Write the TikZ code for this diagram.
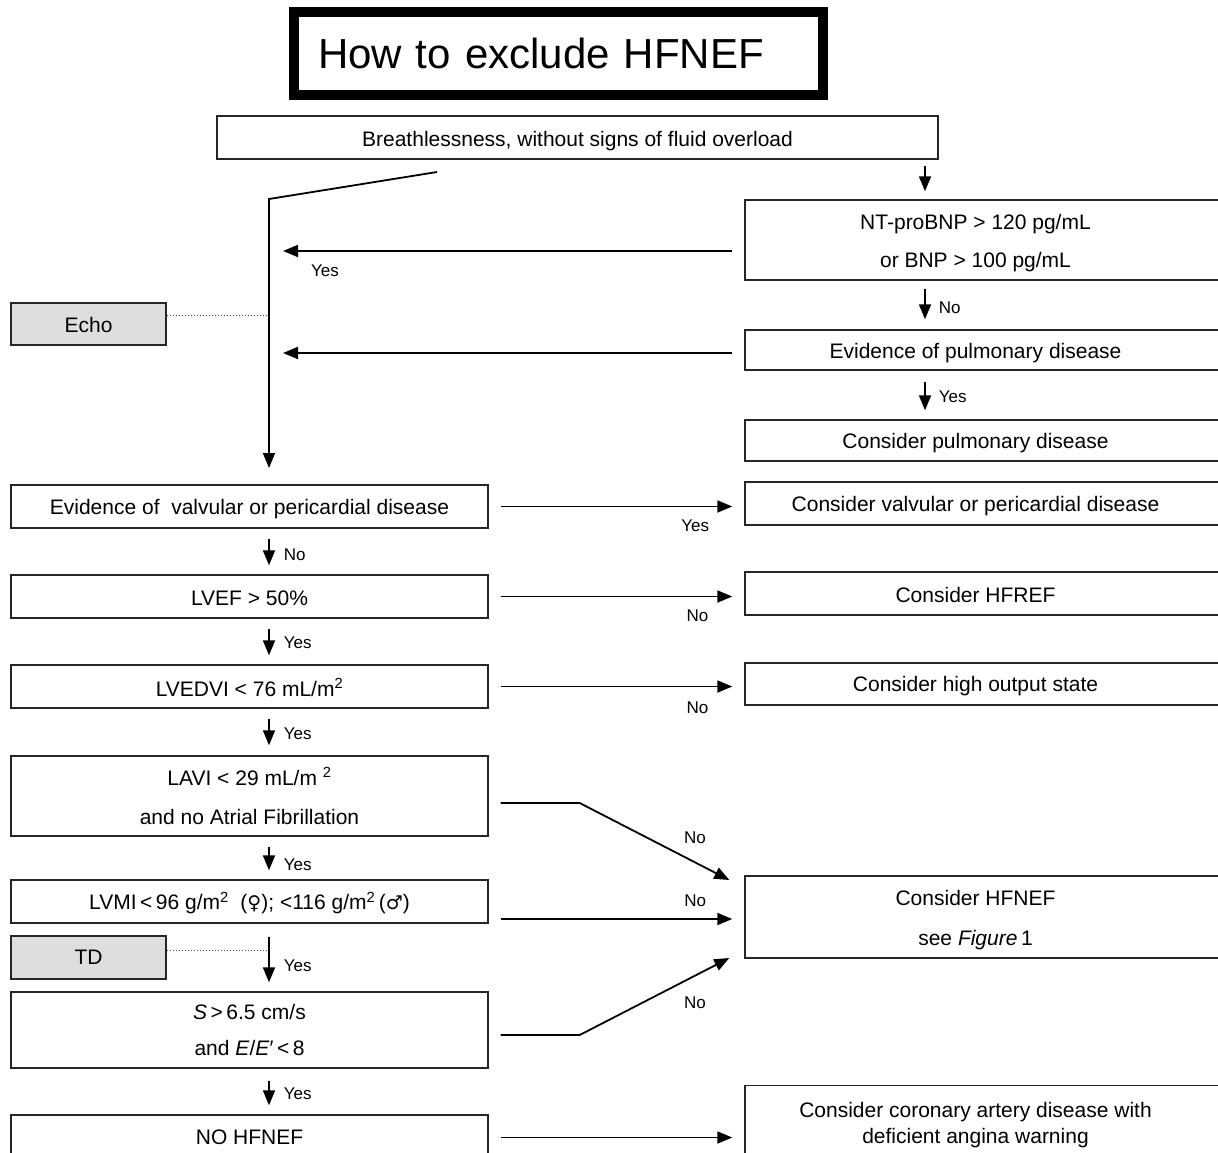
\documentclass[tikz,border=0pt]{standalone}
\usepackage{fontspec}
\setmainfont{Liberation Sans}
\newfontfamily\dvs{DejaVu Sans}
\usetikzlibrary{calc,arrows.meta}
\newcommand\rl{\hspace*{-16pt}}
\newcommand\lw[2][3pt]{\raisebox{-#1}[\height][\depth]{#2}}
\begin{document}
\begin{tikzpicture}[x=1pt,y=-1pt,
  box/.style={draw=black!85,line width=1.4pt,fill=white,inner sep=0pt,align=center,
    font=\fontsize{21}{38}\selectfont},
  lbox/.style={box,minimum width=477pt},
  rbox/.style={box,minimum width=477pt},
  gbox/.style={box,fill=black!13,minimum width=155pt},
  arr/.style={line width=1.8pt,-{Triangle[length=15pt,width=12pt]}},
  dots/.style={line width=1pt,dotted,black!70},
  lab/.style={font=\fontsize{17}{20}\selectfont,inner sep=2pt}]
\useasboundingbox (0,0) rectangle (1218,1152);
\fill[white] (0,0) rectangle (1218,1152);
% title
\node[draw=black,line width=10pt,text width=481pt,inner xsep=24pt,minimum height=83pt,align=left,
  font=\fontsize{42}{48}\selectfont] (title) at (558.5,53.5) {How to exclude HFNEF};
% boxes
\node[box,minimum width=721pt,minimum height=43pt] (breath) at (577.5,137.5) {\lw[4pt]{Breathlessness, without signs of fluid overload}};
\node[rbox,minimum height=80pt] (ntpro) at (983.5,240) {\rl\lw{NT-proBNP \textgreater{} 120 pg/mL}\\\rl\lw{or BNP \textgreater{} 100 pg/mL}};
\node[gbox,minimum height=42pt] (echo) at (88.5,324) {\lw[1pt]{Echo}};
\node[rbox,minimum height=40pt] (pulm) at (983.5,350) {\rl\lw{Evidence of pulmonary disease}};
\node[rbox,minimum height=41pt] (conpulm) at (983.5,440.5) {\rl\lw{Consider pulmonary disease}};
\node[lbox,minimum height=43pt] (valv) at (249.5,506.5) {\lw{Evidence of\ \ valvular or pericardial disease}};
\node[rbox,minimum height=43pt] (convalv) at (983.5,503.5) {\rl\lw{Consider valvular or pericardial disease}};
\node[lbox,minimum height=43pt] (lvef) at (249.5,596.5) {\lw[1.5pt]{LVEF \textgreater{} 50\%}};
\node[rbox,minimum height=43pt] (hfref) at (983.5,593.5) {\rl\lw[1pt]{Consider HFREF}};
\node[lbox,minimum height=43pt] (lvedvi) at (249.5,686.5) {\lw[1pt]{LVEDVI \textless{} 76 mL/m\textsuperscript{2}}};
\node[rbox,minimum height=42pt] (highout) at (983.5,684) {\rl\lw[2pt]{Consider high output state}};
\node[lbox,minimum height=80pt,font=\fontsize{21}{39}\selectfont] (lavi) at (249.5,796) {LAVI \textless{} 29 mL/m \textsuperscript{2}\\and no Atrial Fibrillation};
\node[lbox,minimum height=43pt] (lvmi) at (249.5,901.5) {\lw[1.5pt]{LVMI\,\textless{}\,96 g/m\textsuperscript{2}\ \ ({\dvs\fontsize{19}{20}\selectfont ♀}); \textless{}116 g/m\textsuperscript{2}\,({\dvs\fontsize{19}{20}\selectfont ♂})}};
\node[rbox,minimum height=82pt,font=\fontsize{21}{40}\selectfont] (hfnef) at (983.5,917) {\rl\lw{Consider HFNEF}\\\rl\lw{see \textit{Figure}\,1}};
\node[gbox,minimum height=43pt] (td) at (88.5,957.5) {TD};
\node[lbox,minimum height=76pt,font=\fontsize{21}{36}\selectfont] (sbox) at (249.5,1030) {\textit{S}\,\textgreater{}\,6.5 cm/s\\and \textit{E}/\textit{E}′\,\textless{}\,8};
\node[lbox,minimum height=45pt] (nohf) at (249.5,1137.5) {NO HFNEF};
\node[rbox,minimum height=79pt,font=\fontsize{21}{26}\selectfont] (coron) at (983.5,1125) {\rl Consider coronary artery disease with\\\rl deficient angina warning};
% left main line
\coordinate (lstart) at (437,172);
\coordinate (ltop) at (269,199);
\coordinate (lbot) at (269,468);
\coordinate (xr) at (925,0);
\draw[arr] (lstart) -- (ltop) -- (lbot);
\draw[dots] (echo.east |- 0,315) -- (267,315);
% right column
\draw[arr] ($(breath.south -| xr)+(0,6)$) -- ($(ntpro.north -| xr)+(0,-8)$);
\draw[arr] ($(ntpro.west)+(-12,11)$) -- ($(ntpro.west -| ltop)+(14,11)$);
\node[lab] at (325,271) {Yes};
\draw[arr] ($(ntpro.south -| xr)+(0,8)$) -- ($(pulm.north -| xr)+(0,-10)$)
  node[lab,midway,right=11pt,yshift=-4pt] {No};
\draw[arr] ($(pulm.west)+(-12,3)$) -- ($(pulm.west -| ltop)+(14,3)$);
\draw[arr] ($(pulm.south -| xr)+(0,11)$) -- ($(conpulm.north -| xr)+(0,-9)$)
  node[lab,midway,right=11pt,yshift=-1pt] {Yes};
% left column down arrows
\draw[arr] ($(valv.south -| ltop)+(0,10)$) -- ($(lvef.north -| ltop)+(0,-9)$)
  node[lab,midway,right=12pt,yshift=-3pt] {No};
\draw[arr] ($(lvef.south -| ltop)+(0,10)$) -- ($(lvedvi.north -| ltop)+(0,-9)$)
  node[lab,midway,right=12pt,yshift=-1pt] {Yes};
\draw[arr] ($(lvedvi.south -| ltop)+(0,10)$) -- ($(lavi.north -| ltop)+(0,-10)$)
  node[lab,midway,right=12pt,yshift=-2pt] {Yes};
\draw[arr] ($(lavi.south -| ltop)+(0,10)$) -- ($(lvmi.north -| ltop)+(0,-9)$)
  node[lab,midway,right=12pt,yshift=-6pt] {Yes};
\draw[arr] ($(lvmi.south -| ltop)+(0,13)$) -- ($(sbox.north -| ltop)+(0,-9)$)
  node[lab,midway,right=12pt,yshift=-6pt] {Yes};
\draw[dots] (td.east |- 0,950) -- (267,950);
\draw[arr] ($(sbox.south -| ltop)+(0,12)$) -- ($(nohf.north -| ltop)+(0,-9)$)
  node[lab,midway,right=12pt,yshift=-1pt] {Yes};
% horizontal arrows
\draw[arr] ($(valv.east)+(12,0)$) -- ($(valv.east -| convalv.west)+(-12,0)$)
  node[lab,pos=0.84,below=10pt] {Yes};
\draw[arr] ($(lvef.east)+(12,0)$) -- ($(lvef.east -| hfref.west)+(-12,0)$)
  node[lab,pos=0.85,below=10pt] {No};
\draw[arr] ($(lvedvi.east)+(12,0)$) -- ($(lvedvi.east -| highout.west)+(-12,0)$)
  node[lab,pos=0.85,below=12pt] {No};
\draw[arr] ($(lavi.east)+(12,7)$) -- ++(79,0) -- ($(hfnef.west)+(-15,-37)$);
\node[lab] at (695,838) {No};
\draw[arr] ($(lvmi.east)+(12,17.5)$) -- ($(hfnef.west)+(-12,2)$)
  node[lab,pos=0.84,above=9pt] {No};
\draw[arr] ($(sbox.east)+(12,5)$) -- ++(79,0) -- ($(hfnef.west)+(-15,41)$);
\node[lab] at (695,1003) {No};
\draw[arr] ($(nohf.east)+(12,0)$) -- ($(nohf.east -| coron.west)+(-12,0)$);
\end{tikzpicture}
\end{document}
